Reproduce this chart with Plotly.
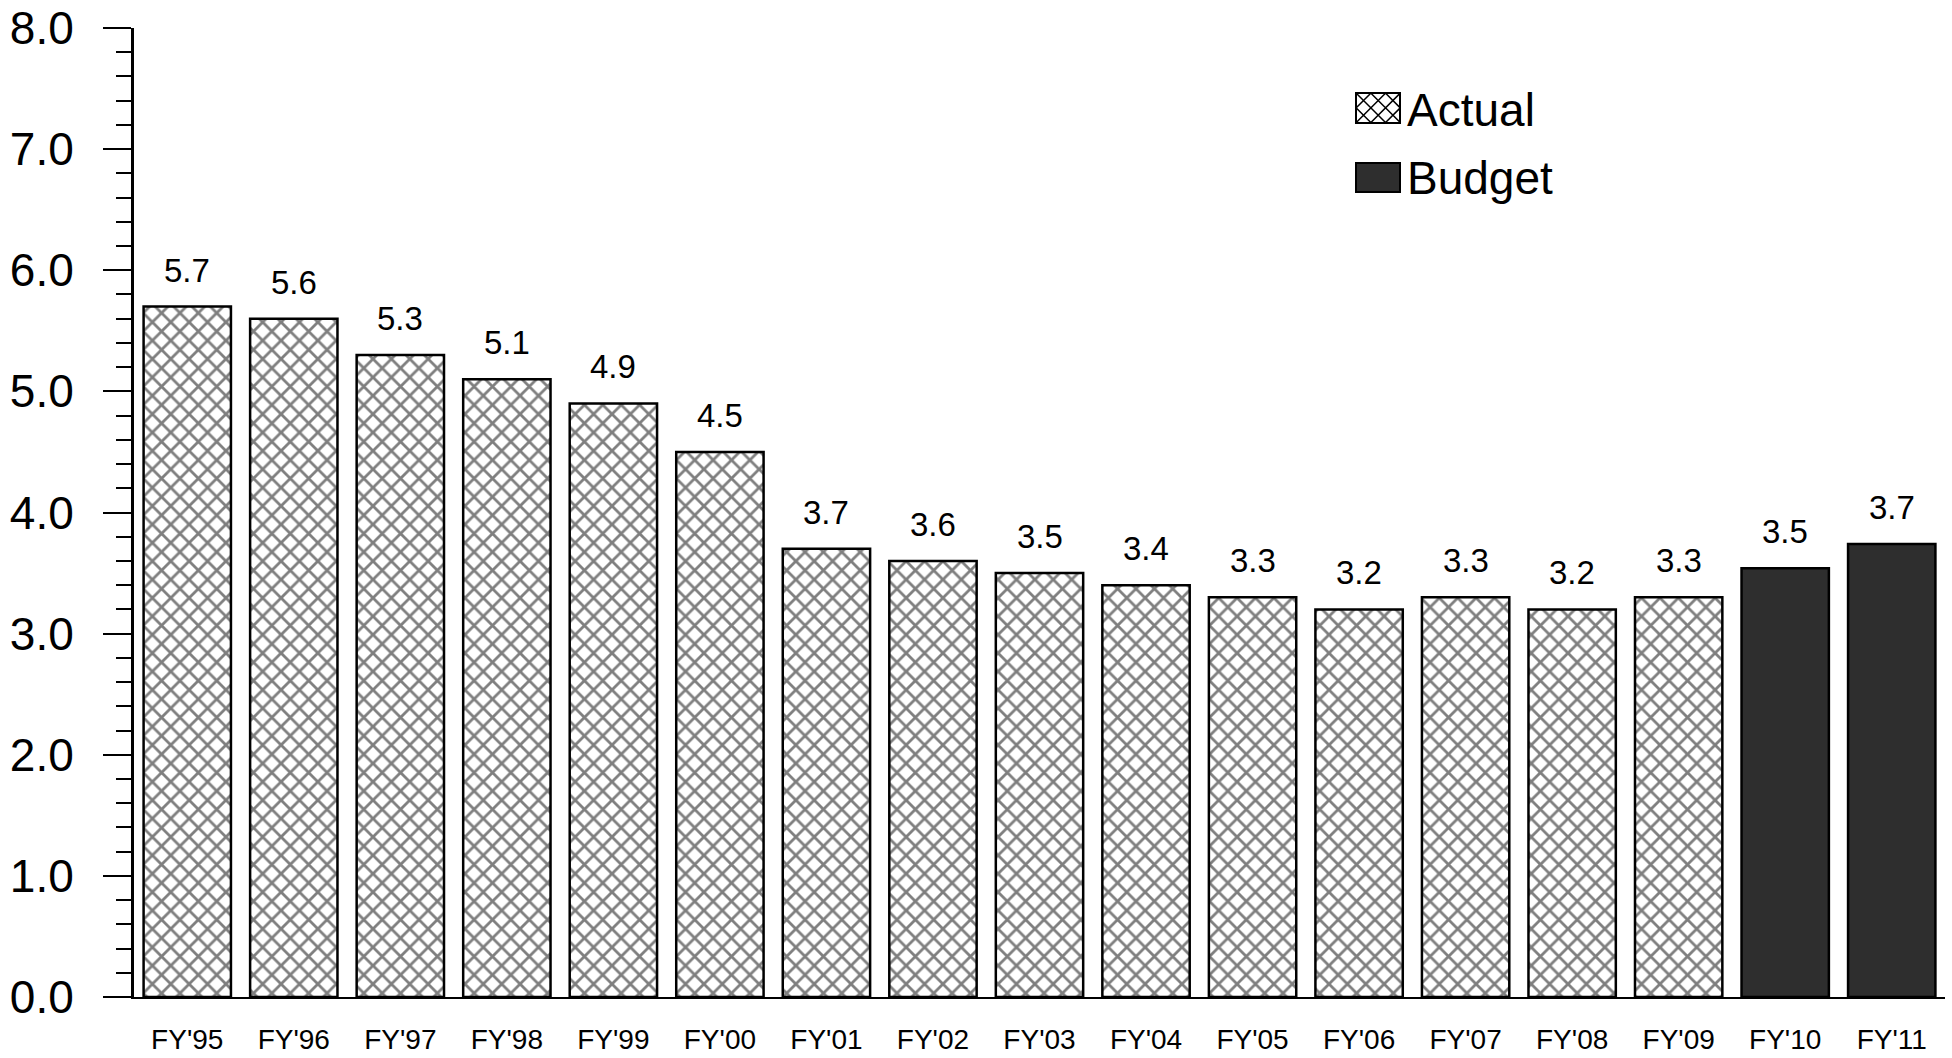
import plotly.graph_objects as go

# Fiscal years and values
actual_years = ["FY'95", "FY'96", "FY'97", "FY'98", "FY'99", "FY'00", "FY'01", "FY'02",
                "FY'03", "FY'04", "FY'05", "FY'06", "FY'07", "FY'08", "FY'09"]
actual_values = [5.7, 5.6, 5.3, 5.1, 4.9, 4.5, 3.7, 3.6, 3.5, 3.4, 3.3, 3.2, 3.3, 3.2, 3.3]

budget_years = ["FY'10", "FY'11"]
budget_values = [3.54, 3.74]

y_ticks = [0, 1, 2, 3, 4, 5, 6, 7, 8]

all_years = actual_years + budget_years

W, H = 1952, 1058
ML, MR, MT, MB = 134, 7, 28, 61
PW, PH = W - ML - MR, H - MT - MB

FONT = "Liberation Sans, Arial, sans-serif"

fig = go.Figure()

fig.add_trace(go.Bar(
    x=actual_years, y=actual_values, name="Actual",
    marker=dict(color="white",
                line=dict(color="black", width=2.5),
                pattern=dict(shape="x", size=13, solidity=0.38,
                             fgcolor="black", bgcolor="white")),
    width=0.82, showlegend=False, hoverinfo="x+y",
))
fig.add_trace(go.Bar(
    x=budget_years, y=budget_values, name="Budget",
    marker=dict(color="#2e2e2e", line=dict(color="black", width=2.5)),
    width=0.82, showlegend=False, hoverinfo="x+y",
))

# Value labels above each bar
for xs, ys in ((actual_years, actual_values), (budget_years, budget_values)):
    for xv, yv in zip(xs, ys):
        fig.add_annotation(x=xv, y=yv, text=f"{yv:.1f}", showarrow=False,
                           yanchor="bottom", yshift=16,
                           font=dict(family=FONT, size=33, color="black"))


def px_x(px):
    return (px - ML) / PW


def px_y(py):
    return (H - MB - py) / PH


# Hand-drawn legend
shapes = []
ax0, ay0, ax1, ay1 = 1356, 93, 1400, 123
shapes.append(dict(type="rect", xref="paper", yref="paper",
                   x0=px_x(ax0), x1=px_x(ax1), y0=px_y(ay1), y1=px_y(ay0),
                   fillcolor="white", line=dict(color="black", width=2)))

# crosshatch inside the Actual swatch
bw, bh = ax1 - ax0, ay1 - ay0
step = 14.7


def clip_line(c, sign):
    # line: y = sign*x + c in local box coords, clipped to [0,bw]x[0,bh]
    pts = []
    for x in (0, bw):
        y = sign * x + c
        if 0 <= y <= bh:
            pts.append((x, y))
    for y in (0, bh):
        x = (y - c) / sign
        if 0 <= x <= bw:
            pts.append((x, y))
    pts = sorted(set(pts))
    if len(pts) >= 2:
        return pts[0], pts[-1]
    return None


path = ""
k = -10
while k < 12:
    for sign in (1, -1):
        c = k * step + (0 if sign == 1 else bh / 2)
        seg = clip_line(c, sign)
        if seg:
            (x0, y0), (x1, y1) = seg
            path += (f"M{px_x(ax0 + x0):.5f},{px_y(ay0 + y0):.5f}"
                     f"L{px_x(ax0 + x1):.5f},{px_y(ay0 + y1):.5f}")
    k += 1
shapes.append(dict(type="path", xref="paper", yref="paper", path=path,
                   line=dict(color="black", width=1.5)))

bx0, by0, bx1, by1 = 1356, 163, 1400, 192
shapes.append(dict(type="rect", xref="paper", yref="paper",
                   x0=px_x(bx0), x1=px_x(bx1), y0=px_y(by1), y1=px_y(by0),
                   fillcolor="#2e2e2e", line=dict(color="black", width=2)))

fig.add_annotation(xref="paper", yref="paper", x=px_x(1405), y=px_y(110),
                   text="Actual", showarrow=False, xanchor="left", yanchor="middle",
                   font=dict(family=FONT, size=46, color="black"))
fig.add_annotation(xref="paper", yref="paper", x=px_x(1405), y=px_y(178),
                   text="Budget", showarrow=False, xanchor="left", yanchor="middle",
                   font=dict(family=FONT, size=46, color="black"))

fig.update_layout(
    width=W, height=H,
    margin=dict(l=ML, r=MR, t=MT, b=MB),
    paper_bgcolor="white", plot_bgcolor="white",
    barmode="overlay",
    shapes=shapes,
    font=dict(family=FONT, color="black"),
    xaxis=dict(type="category", categoryorder="array", categoryarray=all_years,
               range=[-0.5, len(all_years) - 0.5], automargin=False,
               showline=True, linecolor="black", linewidth=2,
               ticks="", showgrid=False, zeroline=False,
               tickfont=dict(family=FONT, size=28, color="black"),
               ticklabelstandoff=16),
    yaxis=dict(range=[0, 8], tickvals=y_ticks, tickformat=".1f", automargin=False,
               showline=True, linecolor="black", linewidth=3,
               ticks="outside", ticklen=28, tickwidth=2, tickcolor="black",
               minor=dict(dtick=0.2, ticks="outside", ticklen=15, tickwidth=1.5,
                          tickcolor="black", showgrid=False),
               showgrid=False, zeroline=False,
               tickfont=dict(family=FONT, size=46, color="black"),
               ticklabelstandoff=20),
)

fig.write_html("out.html")
